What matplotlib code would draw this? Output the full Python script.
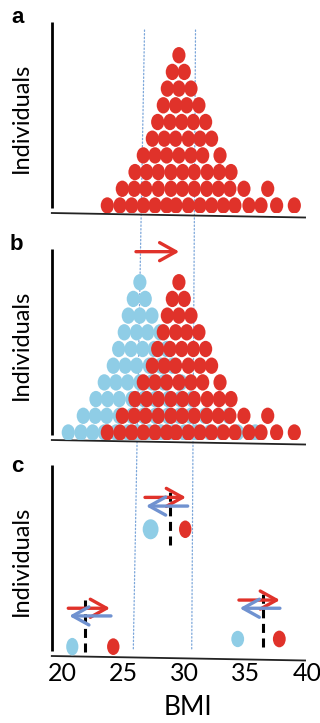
import matplotlib
matplotlib.use("Agg")
import matplotlib.pyplot as plt
from matplotlib.patches import Ellipse, ConnectionPatch

plt.rcParams["font.family"] = ["Lato", "DejaVu Sans"]
plt.rcParams["lines.scale_dashes"] = False

# =========================
# DATA (BMI of each dot, one list per row of individuals, bottom row first)
# =========================
red_rows = [
    [23.65, 24.69, 25.65, 26.60, 27.56, 28.52, 29.28, 30.29, 31.25, 32.20,
     33.16, 34.11, 35.26, 36.25, 37.53, 38.98],
    [24.88, 25.86, 26.80, 27.83, 28.87, 29.80, 30.78, 31.80, 32.75, 33.70,
     34.85, 36.80],
    [25.92, 26.88, 27.83, 28.87, 29.83, 30.78, 31.84, 32.83, 33.79],
    [26.60, 27.56, 28.52, 29.52, 30.51, 31.47, 32.89],
    [27.34, 28.32, 29.25, 30.29, 31.25, 32.20],
    [27.78, 28.79, 29.75, 30.70, 31.71],
    [28.24, 29.25, 30.16, 31.16],
    [28.57, 29.52, 30.51],
    [28.98, 29.96],
    [29.52],
]

blue_rows = [
    [20.45, 21.49, 22.45, 23.40, 24.36, 25.32, 26.08, 27.09, 28.05, 29.00,
     29.96, 30.91, 32.06, 33.05, 34.33, 35.78],
    [21.68, 22.66, 23.60, 24.63, 25.67, 26.60, 27.58, 28.60, 29.55, 30.50,
     31.65, 33.60],
    [22.72, 23.68, 24.63, 25.67, 26.63, 27.58, 28.64, 29.63, 30.59],
    [23.40, 24.36, 25.32, 26.32, 27.31, 28.27, 29.69],
    [24.14, 25.12, 26.05, 27.09, 28.05, 29.00],
    [24.58, 25.59, 26.55, 27.50, 28.51],
    [25.04, 26.05, 26.96, 27.96],
    [25.37, 26.32, 27.31],
    [25.78, 26.76],
    [26.32],
]

# panel b shift arrow (BMI start, BMI end, height)
b_arrow = (26.0, 29.55, 11.83)

# panel c: three example pairs
c_blue_x = [20.78, 27.20, 34.34]
c_blue_y = [1.11, 8.14, 1.57]
c_red_x = [24.14, 30.04, 37.75]
c_red_y = [1.11, 8.14, 1.57]
c_mid_x = [21.82, 28.80, 36.43]
c_mid_y0 = [0.81, 7.20, 1.11]
c_mid_y1 = [3.90, 10.53, 4.44]
c_red_arrow = [(20.45, 23.87, 3.41), (26.74, 30.10, 10.05), (34.44, 37.80, 3.90)]
c_blue_arrow = [(23.95, 20.53, 2.95), (30.24, 26.82, 9.53), (37.80, 34.50, 3.41)]

# dotted guide lines (BMI at top of a, BMI at bottom of c)
guide_top = [26.70, 30.88]
guide_bottom = [25.78, 30.57]

bmi_ticks = [20, 25, 30, 35, 40]

# =========================
# STYLE
# =========================
RED = "#E0322A"
BLUE = "#8FCDE6"
ARROW_BLUE = "#7092D0"
GUIDE = "#7BA6DA"
DOT_W, DOT_H = 1.08, 0.98
c_blue_size = [(1.0, 1.05), (1.3, 1.2), (1.05, 0.98)]
c_red_size = [(1.02, 1.0), (1.02, 1.05), (1.05, 1.0)]

W, H = 320, 723
XLIM = (19.1, 40.2)
YLIM = (0.55, 11.99)

fig = plt.figure(figsize=(W / 100, H / 100), dpi=100)


def make_axes(top, bottom):
    ax = fig.add_axes([51.8 / W, 1 - bottom / H, 257.4 / W, (bottom - top) / H])
    ax.set_xlim(*XLIM)
    ax.set_ylim(*YLIM)
    ax.set_facecolor("none")
    for s in ax.spines.values():
        s.set_visible(False)
    ax.set_yticks([])
    ax.set_xticks([])
    # hand drawn looking axes
    ax.plot([0, 0], [0.025, 1], transform=ax.transAxes, color="black",
            lw=2.0, clip_on=False, solid_capstyle="butt")
    ax.plot([0, 0.984], [0, -4.5 / 191], transform=ax.transAxes,
            color="#222222", lw=1.3, clip_on=False)
    ax.set_ylabel("Individuals", fontsize=17)
    ax.yaxis.set_label_coords(-0.12, 0.5)
    ax.yaxis.label.set_va("center")
    return ax


def dots(ax, rows, color):
    for i, row in enumerate(rows):
        for x in row:
            ax.add_patch(Ellipse((x, i + 1), DOT_W, DOT_H, color=color, lw=0, zorder=3))


def arrow(ax, x0, x1, y, color):
    ax.annotate("", xy=(x1, y), xytext=(x0, y),
                arrowprops=dict(arrowstyle="->,head_length=0.45,head_width=0.25",
                                lw=2.4, color=color, shrinkA=0, shrinkB=0,
                                mutation_scale=26),
                annotation_clip=False, zorder=4)


axa = make_axes(22, 213)
axb = make_axes(249, 440)
axc = make_axes(465, 656)

# panel a
dots(axa, red_rows, RED)

# panel b
dots(axb, blue_rows, BLUE)
dots(axb, red_rows, RED)
arrow(axb, b_arrow[0], b_arrow[1], b_arrow[2], RED)

# panel c
for i in range(3):
    axc.add_patch(Ellipse((c_blue_x[i], c_blue_y[i]), *c_blue_size[i], color=BLUE, lw=0, zorder=3))
    axc.add_patch(Ellipse((c_red_x[i], c_red_y[i]), *c_red_size[i], color=RED, lw=0, zorder=3))
    axc.plot([c_mid_x[i], c_mid_x[i]], [c_mid_y0[i], c_mid_y1[i]], color="black",
             lw=2.2, dashes=(6.5, 4), zorder=2)
    arrow(axc, *c_red_arrow[i][:2], c_red_arrow[i][2], RED)
    arrow(axc, *c_blue_arrow[i][:2], c_blue_arrow[i][2], ARROW_BLUE)

axc.set_xticks(bmi_ticks)
axc.set_xticklabels([str(t) for t in bmi_ticks])
axc.tick_params(axis="x", length=0, pad=4, labelsize=18)
axc.set_xlabel("BMI", fontsize=19)
axc.xaxis.set_label_coords(0.527, -51.5 / 191)
axc.xaxis.label.set_va("center")

# dotted guide lines running through all three panels
for xt, xb in zip(guide_top, guide_bottom):
    con = ConnectionPatch(xyA=(xt, 11.51), coordsA="data", axesA=axa,
                          xyB=(xb, 0.91), coordsB="data", axesB=axc,
                          color=GUIDE, lw=0.9, linestyle=(0, (1, 1.6)), zorder=-1)
    fig.add_artist(con)

# panel letters
for letter, xp, yp in [("a", 11.5, 23), ("b", 10, 250), ("c", 11.5, 472)]:
    fig.text(xp / W, 1 - yp / H, letter, fontsize=16, fontweight="bold",
             family=["Liberation Sans", "DejaVu Sans"], va="baseline")

fig.savefig("out.png", dpi=100)
